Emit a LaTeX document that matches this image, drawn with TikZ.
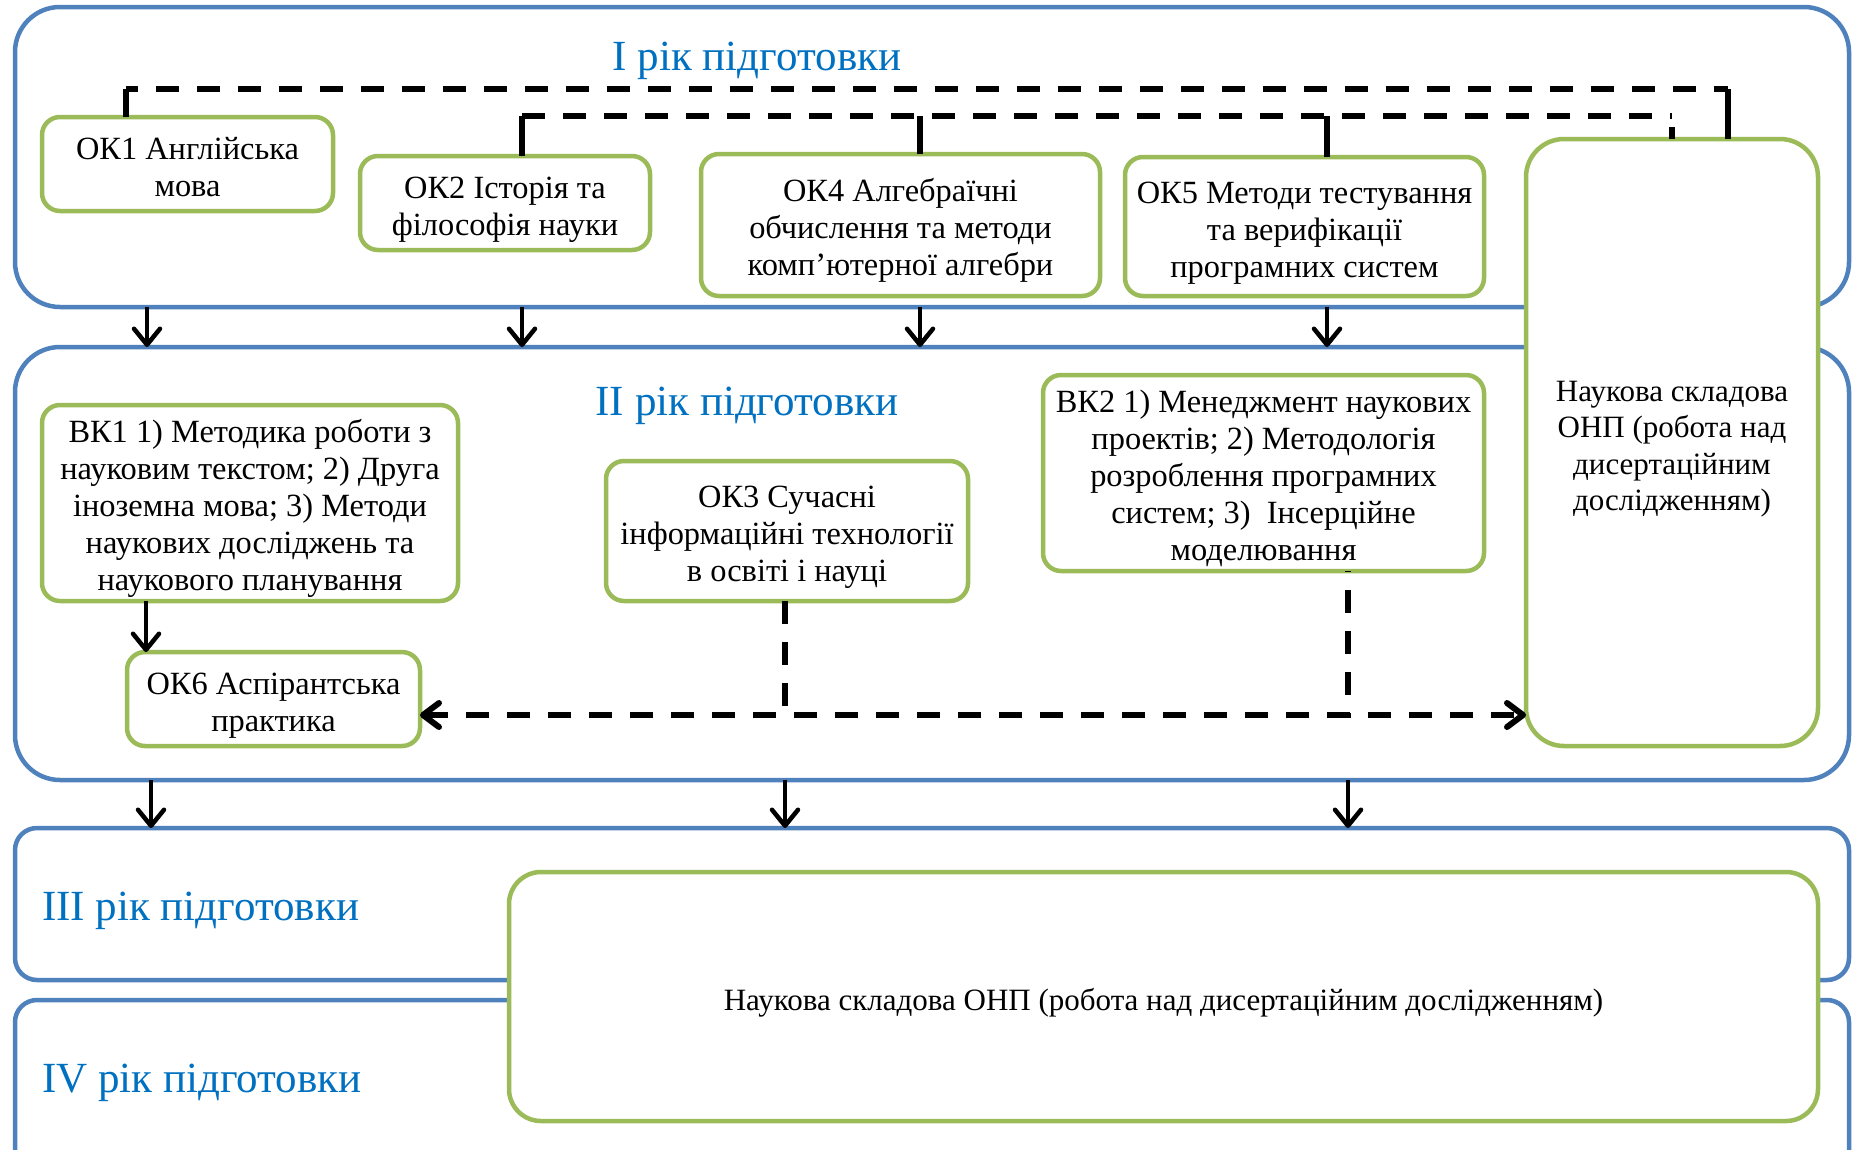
\documentclass[tikz,border=0pt]{standalone}
\usepackage{fontspec}
\setmainfont{Liberation Serif}
\usetikzlibrary{arrows.meta}
\definecolor{bcol}{RGB}{79,129,189}
\definecolor{gcol}{RGB}{155,187,89}
\definecolor{tcol}{RGB}{0,112,192}
\begin{document}
\begin{tikzpicture}[x=1pt,y=-1pt,
  yearbox/.style={draw=bcol, line width=4.5pt, rounded corners=45pt, rectangle, inner sep=0pt, outer sep=0pt},
  gbox/.style={draw=gcol, line width=4.5pt, fill=white, rounded corners=18pt, rectangle, align=flush center, inner sep=0pt, outer sep=0pt, font=\fontsize{32.4}{37}\selectfont,
    execute at begin node={\rule{0pt}{37pt}}, execute at end node={\rule[-10pt]{0pt}{10pt}}},
  smalltext/.style={font=\fontsize{31}{36.3}\selectfont},
  ttl/.style={text=tcol, font=\fontsize{43}{48}\selectfont, inner sep=0pt, outer sep=0pt},
  arr/.style={line width=4.5pt, -{Straight Barb[length=16pt,width=26pt,round]}},
  dline/.style={line width=6pt, dash pattern=on 23pt off 18pt},
  vline/.style={line width=6pt},
  darr/.style={dline, -{Straight Barb[length=16pt,width=24pt,round]}}]
\useasboundingbox (0,0) rectangle (1854,1149);
% year containers
\node[yearbox, minimum width=1834pt, minimum height=300pt] (y1) at (932,157) {};
\node[yearbox, minimum width=1834pt, minimum height=433pt] (y2) at (932,563.5) {};
\node[yearbox, rounded corners=22pt, minimum width=1834pt, minimum height=152pt] (y3) at (932,904) {};
\node[yearbox, rounded corners=22pt, minimum width=1834pt, minimum height=200pt] (y4) at (932,1100) {};
% titles
\node[ttl, anchor=base] (t1) at (757,70) {I рік підготовки};
\node[ttl, anchor=base] (t2) at (747,415) {II рік підготовки};
\node[ttl, anchor=base west] (t3) at (42,920) {III рік підготовки};
\node[ttl, anchor=base west] (t4) at (42,1092) {IV рік підготовки};
% course boxes
\node[gbox, text width=281pt, minimum width=291pt, minimum height=94pt] (ok1) at (187.5,164) {ОК1 Англійська\\мова};
\node[gbox, text width=280pt, minimum width=290pt, minimum height=94pt] (ok2) at (505,203) {ОК2 Історія та\\філософія науки};
\node[gbox, text width=389pt, minimum width=399pt, minimum height=142pt] (ok4) at (900.5,225) {ОК4 Алгебраїчні\\обчислення та методи\\комп’ютерної алгебри};
\node[gbox, text width=352pt, minimum width=359pt, minimum height=139pt] (ok5) at (1304.5,226.5) {ОК5 Методи тестування\\та верифікації\\програмних систем};
\node[gbox, smalltext, text width=282pt, rounded corners=38pt, minimum width=292pt, minimum height=607pt] (tall) at (1672,442.5) {Наукова складова\\ОНП (робота над\\дисертаційним\\дослідженням)};
\node[gbox, text width=406pt, minimum width=416pt, minimum height=196pt] (vk1) at (250,503) {ВК1 1) Методика роботи з\\науковим текстом; 2) Друга\\іноземна мова; 3) Методи\\наукових досліджень та\\наукового планування};
\node[gbox, text width=283pt, minimum width=293pt, minimum height=94pt] (ok6) at (273.5,699) {ОК6 Аспірантська\\практика};
\node[gbox, text width=352pt, minimum width=362pt, minimum height=140pt] (ok3) at (787,531) {ОК3 Сучасні\\інформаційні технології\\в освіті і науці};
\node[gbox, text width=433pt, minimum width=441pt, minimum height=196pt] (vk2) at (1263.5,473) {ВК2 1) Менеджмент наукових\\проектів; 2) Методологія\\розроблення програмних\\систем; 3)\ \ Інсерційне\\моделювання};
\node[gbox, smalltext, text width=1299pt, rounded corners=32pt, minimum width=1309pt, minimum height=249pt] (big) at (1163.5,996.5) {Наукова складова ОНП (робота над дисертаційним дослідженням)};
% helper coordinates
\coordinate (xa) at (147,0);
\coordinate (xb) at (522,0);
\coordinate (xc) at (920,0);
\coordinate (xd) at (1327,0);
\coordinate (xv) at (146,0);
\coordinate (xe) at (151,0);
\coordinate (xf) at (785,0);
\coordinate (xg) at (1348,0);
\coordinate (cA) at (126,0);
\coordinate (cB) at (1728,0);
\coordinate (hA) at (0,89);
\coordinate (hB) at (0,116);
\coordinate (jy) at (0,715);
% arrows between years
\draw[arr] (y1.south -| xa) -- (y2.north -| xa);
\draw[arr] (y1.south -| xb) -- (y2.north -| xb);
\draw[arr] (y1.south -| xc) -- (y2.north -| xc);
\draw[arr] (y1.south -| xd) -- (y2.north -| xd);
\draw[arr] (vk1.south -| xv) -- (ok6.north -| xv);
\draw[arr] (y2.south -| xe) -- (y3.north -| xe);
\draw[arr] (y2.south -| xf) -- (y3.north -| xf);
\draw[arr] (y2.south -| xg) -- (y3.north -| xg);
% dashed links in year I
\draw[vline] (ok1.north -| cA) -- (cA |- hA);
\draw[dline, dash phase=11pt] (cA |- hA) -- (cB |- hA);
\draw[vline] (cB |- hA) -- (tall.north -| cB);
\draw[vline] (ok2.north -| xb) -- (xb |- hB);
\draw[dline] (xb |- hB) -- (tall.north |- hB);
\draw[vline] (ok4.north -| xc) -- (xc |- hB);
\draw[vline] (ok5.north -| xd) -- (xd |- hB);
\draw[dline, dash phase=30pt] (tall.north |- hB) -- (tall.north);
% dashed links in year II
\draw[darr] (ok3.south -| xf) |- (tall.west |- jy);
\draw[darr, dash phase=22pt] (vk2.south -| xg) |- (ok6.east |- jy);
\end{tikzpicture}
\end{document}
